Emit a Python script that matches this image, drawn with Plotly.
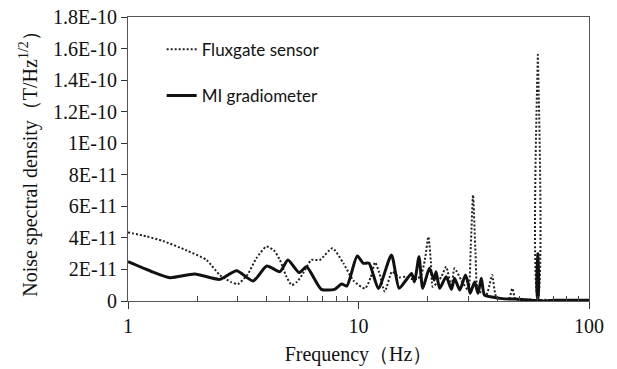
import plotly.graph_objects as go

# Fluxgate sensor (dotted) — frequency (Hz), noise (x1e-11 T/Hz^1/2)
flux_f = [1.00, 1.20, 1.42, 1.80, 2.19, 2.50, 2.80, 3.00, 3.31, 3.60, 3.99, 4.30, 4.56, 4.85, 5.13,
          5.40, 5.75, 6.24, 6.79, 7.71, 8.60, 9.5, 10.67, 11.3, 11.8, 12.3, 13.0, 14.0, 15.0, 16.0,
          17.0, 18.0, 18.7, 19.4, 20.1, 20.6, 21.0, 22.0, 22.9, 24.0, 25.3, 26.1, 27.9, 29.9, 30.7,
          31.4, 32.2, 33.0, 35.8, 37.0, 38.0, 39.6, 42, 45, 46.5, 48, 52, 56, 59.7, 60.0, 60.3,
          65, 70, 80, 90, 100]
flux_v = [4.35, 4.1, 3.8, 3.2, 2.6, 1.65, 1.2, 1.08, 1.7, 2.7, 3.45, 3.2, 2.6, 1.6, 1.01,
          1.2, 1.75, 2.6, 2.6, 3.34, 2.39, 1.3, 0.8, 1.5, 2.45, 1.8, 0.6, 1.86, 1.5, 1.54,
          1.4, 1.4, 1.65, 2.6, 4.07, 2.5, 0.9, 1.2, 1.54, 2.17, 0.9, 2.07, 1.33, 0.7, 3.5,
          6.72, 3.0, 0.7, 0.38, 1.0, 1.65, 0.25, 0.15, 0.15, 0.8, 0.12, 0.1, 0.1, 0.1, 15.6, 0.1,
          0.08, 0.05, 0.05, 0.05, 0.05]

# MI gradiometer (solid)
mi_f = [1.00, 1.25, 1.52, 1.95, 2.50, 2.96, 3.49, 4.00, 4.56, 4.94, 5.53, 5.95, 6.9, 7.87, 8.45,
        8.9, 9.87, 10.5, 11.1, 12.2, 13.9, 15.0, 16.1, 17.0, 17.5, 18.3, 19.0, 20.3, 21.3, 21.7,
        22.5, 24.0, 25.3, 26.1, 27.5, 29.1, 29.8, 30.5, 31.9, 33.0, 34.1, 35.2, 38, 42, 48, 55,
        59.7, 60.0, 60.3, 70, 100]
mi_v = [2.49, 1.9, 1.48, 1.71, 1.37, 1.92, 1.27, 2.22, 1.86, 2.6, 1.8, 2.17, 0.74, 0.74, 1.08,
        0.95, 2.85, 2.39, 2.4, 0.8, 2.92, 0.8, 1.33, 1.75, 1.2, 2.8, 0.8, 2.07, 1.33, 1.86,
        0.8, 1.54, 0.74, 1.44, 0.7, 1.65, 1.2, 0.49, 1.2, 0.49, 1.44, 0.38, 0.25, 0.15, 0.12, 0.06,
        0.06, 3.0, 0.06, 0.04, 0.04]

scale = 1e-11
flux_y = [v * scale for v in flux_v]
mi_y = [v * scale for v in mi_v]

y_tickvals = [0, 2e-11, 4e-11, 6e-11, 8e-11, 1e-10, 1.2e-10, 1.4e-10, 1.6e-10, 1.8e-10]
y_ticktext = ["0", "2E-11", "4E-11", "6E-11", "8E-11", "1E-10", "1.2E-10", "1.4E-10", "1.6E-10", "1.8E-10"]
x_tickvals = [1, 10, 100]
x_ticktext = ["1", "10", "100"]
x_minor = [2, 3, 4, 5, 6, 7, 8, 9, 20, 30, 40, 50, 60, 70, 80, 90]

serif = "Liberation Serif, Times New Roman, serif"
sans = "Lato, Carlito, Calibri, sans-serif"

fig = go.Figure()
fig.add_trace(go.Scatter(x=flux_f, y=flux_y, mode="lines", name="Fluxgate sensor", showlegend=True,
                         line=dict(color="#222222", width=2, dash="2px,2px", shape="spline", smoothing=0.6),
                         legend="legend"))
fig.add_trace(go.Scatter(x=mi_f, y=mi_y, mode="lines", name="MI gradiometer", showlegend=True,
                         line=dict(color="#111111", width=3, shape="spline", smoothing=0.6),
                         legend="legend2"))

fig.update_layout(
    width=617, height=369,
    showlegend=True,
    margin=dict(l=128, r=28, t=17, b=68, autoexpand=False),
    paper_bgcolor="white", plot_bgcolor="white",
    font=dict(family=serif, size=20, color="#111111"),
    legend=dict(x=0.073, y=0.885, xanchor="left", yanchor="middle", bgcolor="rgba(0,0,0,0)",
                font=dict(family=sans, size=17, color="#111111")),
    legend2=dict(x=0.073, y=0.722, xanchor="left", yanchor="middle", bgcolor="rgba(0,0,0,0)",
                 font=dict(family=sans, size=17, color="#111111")),
    xaxis=dict(type="log", range=[0, 2], tickvals=x_tickvals, ticktext=x_ticktext,
               ticks="outside", ticklen=7, tickcolor="#333", showgrid=False,
               showline=True, linecolor="#555", linewidth=1.2, mirror=True, automargin=False,
               tickfont=dict(family=serif, size=20),
               minor=dict(tickvals=x_minor, ticks="inside", ticklen=5, tickcolor="#444", showgrid=False),
               title=dict(text="Frequency（Hz）", font=dict(family=serif, size=20), standoff=10),
               zeroline=False),
    yaxis=dict(range=[0, 1.8e-10], tickvals=y_tickvals, ticktext=y_ticktext,
               ticks="outside", ticklen=6, tickcolor="#333", showgrid=False,
               showline=True, linecolor="#555", linewidth=1.2, mirror=True, automargin=False,
               tickfont=dict(family=serif, size=20),
               title=dict(text="Noise spectral density（T/Hz<sup>1/2</sup>）", font=dict(family=serif, size=20), standoff=10),
               zeroline=False),
)

fig.write_html("out.html")
